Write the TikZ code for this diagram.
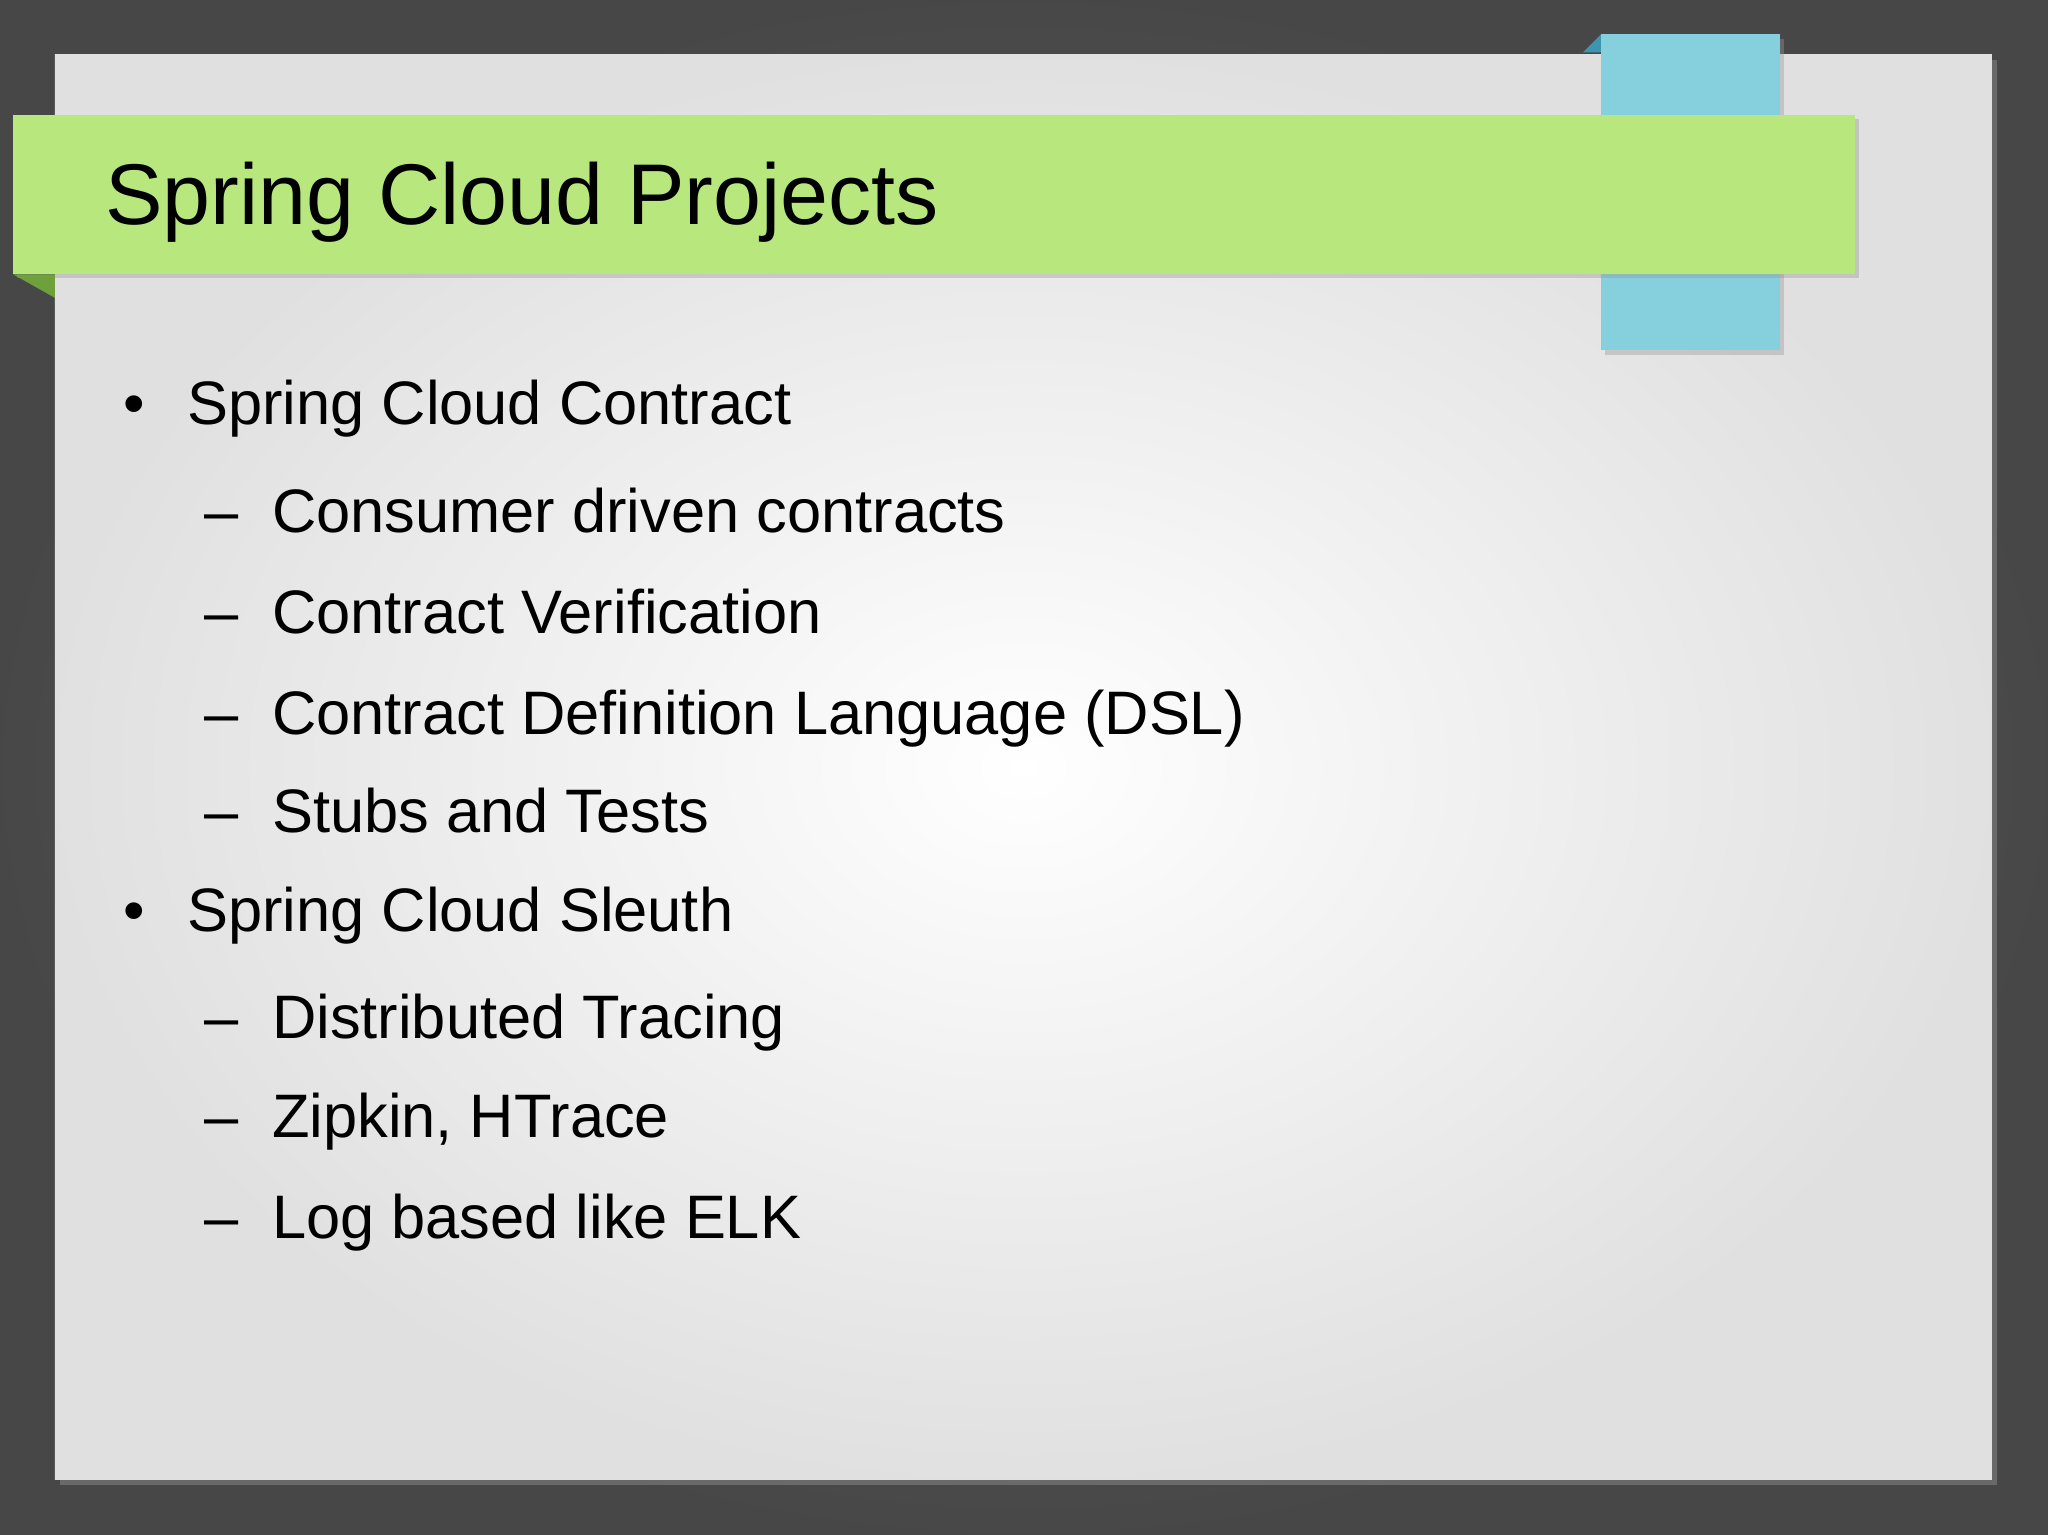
\documentclass[tikz,border=0pt]{standalone}
\usepackage{fontspec}
\setmainfont{Liberation Sans}
\begin{document}
\begin{tikzpicture}[x=0.5pt,y=-0.5pt,
  body/.style={anchor=base west,inner sep=0pt,font=\fontsize{23.5}{28}\selectfont,text=black},
  bmark/.style={anchor=base,inner sep=0pt,font=\fontsize{23.5}{28}\selectfont,text=black}]
\useasboundingbox (0,0) rectangle (1568,1175);
\shade[inner color=black!60,outer color=black!72] (0,0) rectangle (1568,1175);
\fill[black!45,opacity=0.5] (46,46) rectangle (1529,1137);
\shade[inner color=white!97!blue!2,outer color=black!12] (42,42) rectangle (1525,1133);
% blue tab
\fill[black!40,opacity=0.4] (1229,30) rectangle (1366,272);
\fill[color={rgb,255:red,60;green,150;blue,175}] (1212,40) -- (1226,26) -- (1226,40) -- cycle;
\fill[color={rgb,255:red,134;green,208;blue,222}] (1226,26) rectangle (1363,268);
% green banner
\fill[black!40,opacity=0.4] (13,91) rectangle (1423,213);
\fill[color={rgb,255:red,110;green,160;blue,60}] (10,210) -- (42,228) -- (42,210) -- cycle;
\fill[color={rgb,255:red,184;green,231;blue,126}] (10,88) rectangle (1420,210);
\node[anchor=base west,inner sep=0pt,font=\fontsize{33}{38}\selectfont] (title) at (80,172) {Spring Cloud Projects};
% items
\node[bmark] (b1) at (103,325) {•};
\node[body] (t1) at (143,325) {Spring Cloud Contract};
\node[bmark] (d1) at (170,408) {–};
\node[body] (t2) at (208,408) {Consumer driven contracts};
\node[bmark] (d2) at (170,485) {–};
\node[body] (t3) at (208,485) {Contract Verification};
\node[bmark] (d3) at (170,562) {–};
\node[body] (t4) at (208,562) {Contract Definition Language (DSL)};
\node[bmark] (d4) at (170,637) {–};
\node[body] (t5) at (208,637) {Stubs and Tests};
\node[bmark] (b2) at (103,713) {•};
\node[body] (t6) at (143,713) {Spring Cloud Sleuth};
\node[bmark] (d5) at (170,795) {–};
\node[body] (t7) at (208,795) {Distributed Tracing};
\node[bmark] (d6) at (170,871) {–};
\node[body] (t8) at (208,871) {Zipkin, HTrace};
\node[bmark] (d7) at (170,948) {–};
\node[body] (t9) at (208,948) {Log based like ELK};
\end{tikzpicture}
\end{document}
